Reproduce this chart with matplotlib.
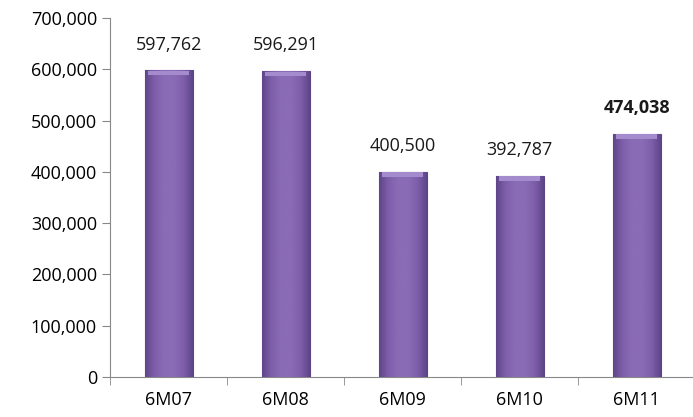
import matplotlib.pyplot as plt
import numpy as np
from matplotlib.colors import LinearSegmentedColormap

categories = ['6M07', '6M08', '6M09', '6M10', '6M11']
values = [597762, 596291, 400500, 392787, 474038]
bold_last = True


def main():
    plt.rcParams['font.family'] = ['Open Sans', 'DejaVu Sans']
    plt.rcParams['font.size'] = 13

    fig = plt.figure(figsize=(6.93, 4.17), dpi=100)
    ax = fig.add_axes([0.159, 0.096, 0.844, 0.861])

    x = np.arange(len(categories))
    bars = ax.bar(x, values, width=0.41, color='#8463AE', edgecolor='#5B4480', linewidth=0.8, zorder=3)

    # bevel-ish shading: dark sides, lighter middle
    cmap = LinearSegmentedColormap.from_list('bev', ['#5E4589', '#7F5FAB', '#8A6BB6', '#8A6BB6', '#7F5FAB', '#5E4589'])
    grad = np.linspace(0, 1, 200).reshape(1, -1)
    for b in bars:
        x0, w, h = b.get_x(), b.get_width(), b.get_height()
        im = ax.imshow(grad, cmap=cmap, extent=(x0, x0 + w, 0, h), aspect='auto', zorder=4)
        im.set_clip_path(b)
        # light top bevel
        ax.bar(x0 + w / 2, 9000, bottom=h - 10000, width=w * 0.86, color='#A38BCD', linewidth=0, zorder=5)

    for i, v in enumerate(values):
        weight = 'bold' if (bold_last and i == len(values) - 1) else 'normal'
        ax.annotate(f'{v:,}', (x[i], v), xytext=(0, 12), textcoords='offset points',
                    ha='center', va='bottom', fontsize=13, fontweight=weight, color='#1a1a1a')

    ax.set_ylim(0, 700000)
    ax.set_yticks(np.arange(0, 700001, 100000))
    ax.set_yticklabels([f'{t:,}' for t in range(0, 700001, 100000)])
    ax.set_xlim(-0.45, len(categories) - 0.5)
    ax.set_xticks(x)
    ax.set_xticklabels(categories)
    ax.set_xticks(np.arange(-0.5, len(categories), 1.0), minor=True)
    ax.tick_params(axis='x', which='major', length=0, pad=10)
    ax.tick_params(axis='x', which='minor', length=6, color='#888888')
    ax.tick_params(axis='y', length=6, color='#888888', direction='out')

    for s in ['top', 'right']:
        ax.spines[s].set_visible(False)
    ax.spines['left'].set_color('#888888')
    ax.spines['bottom'].set_color('#888888')
    ax.spines['left'].set_position(('data', -0.5))

    fig.savefig('out.png', dpi=100)


if __name__ == '__main__':
    main()
